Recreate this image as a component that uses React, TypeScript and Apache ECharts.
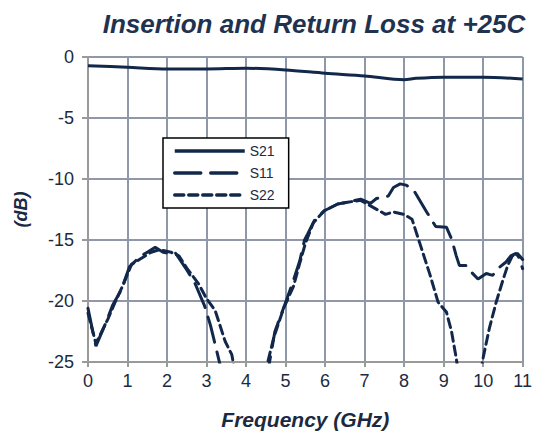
import React, { useEffect, useRef } from "react";
import * as echarts from "echarts";

const titleText = "Insertion and Return Loss at +25C";
const xTicks = [0, 1, 2, 3, 4, 5, 6, 7, 8, 9, 10, 11];

const s21Freq = [0, 1, 2, 3, 4, 5, 6, 7, 8, 8.3, 9, 10, 11];
const s21Loss = [-0.71, -0.84, -0.98, -0.98, -0.92, -1.06, -1.33, -1.55, -1.87, -1.75, -1.65, -1.65, -1.8];

const s11Freq = [0, 0.2, 0.45, 0.63, 0.84, 1.05, 1.3, 1.5, 1.7, 1.9, 2.05, 2.2, 2.47, 2.7, 2.95, 3.1, 3.25, 3.4,
  4.5, 4.6, 4.73, 4.98, 5.19, 5.36, 5.48, 5.56, 5.73, 5.98, 6.32, 6.57, 6.9, 7.15, 7.3, 7.6, 7.73, 7.9, 8.05, 8.24,
  8.57, 8.8, 9.07, 9.2, 9.32, 9.4, 9.57, 9.66, 9.87, 10.08, 10.24, 10.37, 10.58, 10.7, 10.83, 10.9, 11];
const s11Loss = [-20.6, -23.7, -21.8, -20.3, -19.1, -17.2, -16.4, -16.0, -15.6, -16.0, -16.1, -16.0, -17.3, -18.5, -20.4, -22.0, -24.0, -26,
  -27, -24.9, -22.5, -20.3, -18.4, -16.7, -15.0, -14.5, -13.4, -12.6, -12.05, -11.9, -11.65, -12.0, -11.6, -11.4, -10.7, -10.4, -10.5, -10.9,
  -12.7, -13.9, -13.95, -14.9, -16.3, -17.1, -17.1, -17.5, -18.2, -17.75, -17.9, -17.35, -16.8, -16.3, -16.1, -16.4, -17.35];

const s22Freq = [0, 0.2, 0.5, 0.7, 0.9, 1.1, 1.3, 1.6, 1.8, 2.1, 2.3, 2.5, 2.8, 3.0, 3.22, 3.47, 3.64, 3.75,
  4.45, 4.55, 4.7, 4.95, 5.2, 5.35, 5.5, 5.7, 5.98, 6.32, 6.57, 6.9, 7.15, 7.53, 7.73, 8.0, 8.2, 8.4, 8.65, 8.86,
  9.07, 9.2, 9.32, 9.4, 9.9, 9.99, 10.16, 10.33, 10.49, 10.62, 10.74, 10.87, 11];
const s22Loss = [-21.0, -23.5, -21.5, -20.0, -18.6, -17.0, -16.6, -16.0, -15.8, -16.0, -16.3, -17.3, -18.6, -19.8, -20.8, -23.3, -24.4, -26.5,
  -27, -25, -23, -20.6, -18.8, -17, -15.3, -13.6, -12.6, -12.05, -11.9, -11.75, -12.2, -12.9, -12.7, -12.9, -13.3, -15.3, -17.8, -20.1,
  -20.9, -22.5, -24.7, -26.5, -27, -24.8, -22.2, -20.1, -18.4, -17.1, -16.3, -16.1, -16.6];

const zip = (xs: number[], ys: number[]) => xs.map((x, i) => [x, ys[i]]);

const NAVY = "#12284a";
const TEXT = "#1b2a41";
const GRID = "#8e98a9";
const AXIS = "#9a9a9a";
const FONT = "'Liberation Sans', Arial, sans-serif";
const S11_DASH = [26, 10];
const S22_DASH = [9, 5];

export default function App() {
  const ref = useRef<HTMLDivElement>(null);
  useEffect(() => {
    if (!ref.current) return;
    const chart = echarts.init(ref.current, undefined, { renderer: "svg" });
    chart.setOption({
      animation: false,
      backgroundColor: "#ffffff",
      title: {
        text: titleText,
        left: 309,
        top: 6,
        textAlign: "center",
        textStyle: { fontFamily: FONT, fontSize: 26, fontWeight: "bold", fontStyle: "italic", color: "#1f3350" },
      },
      grid: { left: 88, right: 8, top: 57, bottom: 71 },
      legend: {
        orient: "vertical",
        left: 163,
        top: 138,
        data: [
          { name: "S21", itemStyle: { opacity: 0 }, lineStyle: { color: NAVY, width: 3.5, type: "solid" } },
          { name: "S11", itemStyle: { opacity: 0 }, lineStyle: { color: NAVY, width: 3.5, type: S11_DASH } },
          { name: "S22", itemStyle: { opacity: 0 }, lineStyle: { color: NAVY, width: 3.5, type: S22_DASH } },
        ],
        backgroundColor: "#ffffff",
        borderColor: "#000000",
        borderWidth: 1.5,
        borderRadius: 0,
        padding: [6, 14, 6, 10],
        itemWidth: 70,
        itemHeight: 14,
        itemGap: 8,
        textStyle: { fontFamily: FONT, fontSize: 14, color: TEXT },
      },
      xAxis: {
        type: "value",
        min: 0,
        max: 11,
        interval: 1,
        name: "Frequency (GHz)",
        nameLocation: "middle",
        nameGap: 47,
        nameTextStyle: { fontFamily: FONT, fontSize: 21, fontWeight: "bold", fontStyle: "italic", color: TEXT },
        axisLine: { onZero: false, lineStyle: { color: AXIS, width: 2 } },
        axisTick: { show: true, length: 5, lineStyle: { color: AXIS, width: 2 } },
        axisLabel: {
          fontFamily: FONT, fontSize: 18, color: TEXT, margin: 10,
          formatter: (v: number) => (xTicks.includes(v) ? String(v) : ""),
        },
        splitLine: { show: true, lineStyle: { color: GRID, width: 2 } },
      },
      yAxis: {
        type: "value",
        min: -25,
        max: 0,
        interval: 5,
        name: "(dB)",
        nameLocation: "middle",
        nameGap: 58,
        nameRotate: 90,
        nameTextStyle: { fontFamily: FONT, fontSize: 18, fontWeight: "bold", fontStyle: "italic", color: TEXT },
        axisLine: { show: true, lineStyle: { color: AXIS, width: 2 } },
        axisTick: { show: true, length: 6, lineStyle: { color: AXIS, width: 2 } },
        axisLabel: { fontFamily: FONT, fontSize: 18, color: TEXT, margin: 14 },
        splitLine: { show: true, lineStyle: { color: GRID, width: 2 } },
      },
      series: [
        {
          name: "S21", type: "line", data: zip(s21Freq, s21Loss), symbol: "none", smooth: 0.3,
          lineStyle: { color: NAVY, width: 3 }, itemStyle: { color: NAVY }, z: 3,
        },
        {
          name: "S11", type: "line", data: zip(s11Freq, s11Loss), symbol: "none",
          lineStyle: { color: NAVY, width: 3, type: S11_DASH, cap: "round" }, itemStyle: { color: NAVY }, z: 3,
        },
        {
          name: "S22", type: "line", data: zip(s22Freq, s22Loss), symbol: "none",
          lineStyle: { color: NAVY, width: 3, type: S22_DASH, cap: "round" }, itemStyle: { color: NAVY }, z: 3,
        },
      ],
    });
    return () => chart.dispose();
  }, []);
  return <div ref={ref} style={{ width: 535, height: 435, position: "absolute", left: 0, top: 0 }} />;
}
